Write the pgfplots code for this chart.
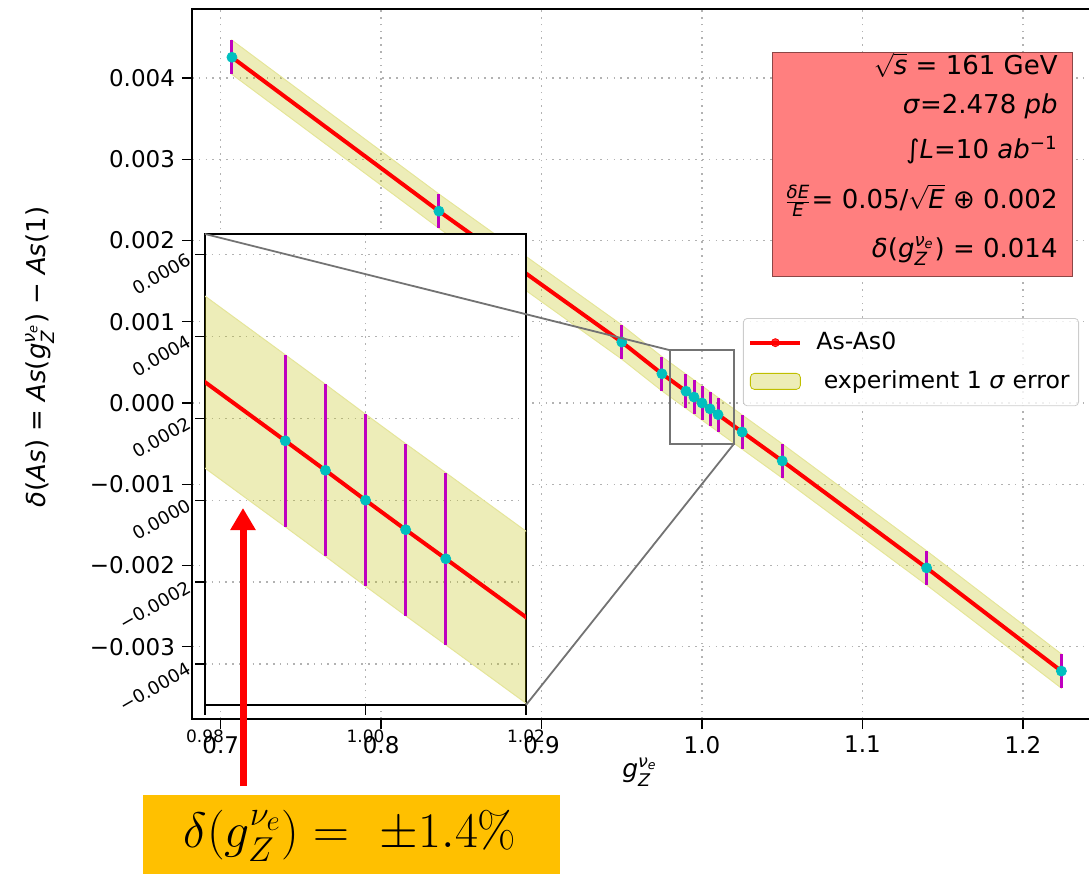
\documentclass[border=0pt]{standalone}
\usepackage{amsmath}
\usepackage[no-math]{fontspec}
\setmainfont{DejaVu Sans}
\usepackage{pgfplots}
\usepackage{pgfplotstable}
\pgfplotsset{compat=1.18}
\usetikzlibrary{arrows.meta}

\definecolor{mplc}{rgb}{0,0.75,0.75}
\definecolor{mplm}{rgb}{0.75,0,0.75}
\definecolor{bandc}{rgb}{0.75,0.75,0}
\definecolor{boxred}{RGB}{255,127,127}
\definecolor{boxedge}{RGB}{140,70,70}
\definecolor{orangebox}{RGB}{255,192,0}

\newcommand{\gZ}{\textit{g}$_{\text{\textit{Z}}}^{\text{\textit{ν}}_{\text{\textit{e}}}}$}

% g, delta(As), error
\pgfplotstableread{
g d e
0.707 0.004256 0.00021
0.836 0.002362 0.00021
0.950 0.000750 0.00021
0.975 0.000360 0.00021
0.990 0.000145 0.00021
0.995 0.000073 0.00021
1.000 0.000000 0.00021
1.005 -0.000072 0.00021
1.010 -0.000143 0.00021
1.025 -0.000357 0.00021
1.050 -0.000713 0.00021
1.140 -0.002030 0.00021
1.224 -0.003300 0.00021
}\asdata

% 1 sigma band: upper edge, then lower edge backwards
\newcommand{\bandcoords}{(0.707,0.004466) (0.836,0.002572) (0.950,0.000960) (0.975,0.000570)
 (0.990,0.000355) (0.995,0.000283) (1.000,0.000210) (1.005,0.000138) (1.010,0.000067)
 (1.025,-0.000147) (1.050,-0.000503) (1.140,-0.001820) (1.224,-0.003090)
 (1.224,-0.003510) (1.140,-0.002240) (1.050,-0.000923) (1.025,-0.000567) (1.010,-0.000353)
 (1.005,-0.000282) (1.000,-0.000210) (0.995,-0.000137) (0.990,-0.000065) (0.975,0.000150)
 (0.950,0.000540) (0.836,0.002152) (0.707,0.004046)}

\pgfplotsset{
  mplgrid/.style={grid=major, grid style={black!30, line width=0.7pt, dash pattern=on 0.8pt off 2.6pt}},
}

\begin{document}
\begin{tikzpicture}
\useasboundingbox (0,0) rectangle (544.5pt,-437pt);
\clip (0,0) rectangle (544.5pt,-437pt);

\begin{axis}[name=main, at={(96pt,-359.5pt)}, anchor=south west, scale only axis,
  width=454.75pt, height=355pt,
  xmin=0.6821, xmax=1.249, ymin=-0.00389, ymax=0.00485,
  xtick={0.7,0.8,0.9,1.0,1.1,1.2}, xticklabels={0.7,0.8,0.9,1.0,1.1,1.2},
  ytick={-0.003,-0.002,-0.001,0,0.001,0.002,0.003,0.004},
  yticklabels={−0.003,−0.002,−0.001,0.000,0.001,0.002,0.003,0.004},
  scaled ticks=false, tick align=outside, tick pos=left, major tick length=5pt,
  tick style={black, line width=0.7pt}, axis line style={line width=0.8pt},
  ticklabel style={font=\fontsize{11.5}{13}\selectfont},
  mplgrid,
  legend style={at={(0.6058,0.5648)}, anchor=north west, draw=black!20, rounded corners=2pt,
    fill=white, fill opacity=0.8, text opacity=1, font=\fontsize{11.8}{14}\selectfont,
    row sep=5pt, inner xsep=2.5pt, inner ysep=5pt},
  legend cell align=left]
\addlegendimage{legend image code/.code={\draw[red,line width=2pt] (2pt,0pt) -- (27pt,0pt); \fill[red] (14.5pt,0pt) circle (2pt);}}
\addlegendentry{\hspace{5pt}As-As0}
\addlegendimage{legend image code/.code={\fill[bandc, fill opacity=0.28] (2pt,-4pt) rectangle (27pt,4pt);}}
\addlegendentry{\hspace{5pt}\ experiment 1 \textit{σ} error}
\addplot[fill=bandc, fill opacity=0.28, draw=bandc!40, line width=0.5pt] coordinates {\bandcoords} -- cycle;
\addplot[red, line width=2pt, mark=none] table[x=g, y=d] {\asdata};
\addplot[only marks, mark=*, mark size=2.5pt, mplc,
  error bars/.cd, y dir=both, y explicit, error mark=none,
  error bar style={mplm, line width=1.5pt}] table[x=g, y=d, y error=e] {\asdata};
\draw[black!55, line width=0.9pt] (axis cs:0.98,-0.0005) rectangle (axis cs:1.02,0.00065);
\coordinate (zTL) at (axis cs:0.98,0.00065);
\coordinate (zBR) at (axis cs:1.02,-0.0005);
\end{axis}

\node[anchor=center, font=\fontsize{12.5}{14}\selectfont] at (320pt,-386pt) {\gZ};
\node[anchor=center, rotate=90, font=\fontsize{13}{15}\selectfont] at (20pt,-178.5pt)
  {\textit{δ}(\textit{As}) = \textit{As}(\gZ) − \textit{As}(1)};

\begin{axis}[name=ins, at={(102.5pt,-352.5pt)}, anchor=south west, scale only axis,
  width=160.5pt, height=235.5pt,
  xmin=0.98, xmax=1.02, ymin=-0.0005, ymax=0.00065,
  axis background/.style={fill=white},
  xtick={0.98,1.00,1.02}, xticklabels={0.98,1.00,1.02},
  ytick={-0.0004,-0.0002,0,0.0002,0.0004,0.0006},
  yticklabels={−0.0004,−0.0002,0.0000,0.0002,0.0004,0.0006},
  scaled ticks=false, tick align=outside, tick pos=left, major tick length=5pt,
  tick style={black, line width=0.7pt}, axis line style={line width=0.8pt},
  ticklabel style={font=\fontsize{8.5}{10}\selectfont},
  xticklabel style={yshift=-4pt},
  yticklabel style={font=\fontsize{9}{10}\selectfont, rotate=30, anchor=east},
  mplgrid]
\addplot[fill=bandc, fill opacity=0.28, draw=bandc!40, line width=0.5pt] coordinates {\bandcoords} -- cycle;
\addplot[red, line width=2pt, mark=none] table[x=g, y=d] {\asdata};
\addplot[only marks, mark=*, mark size=2.5pt, mplc,
  error bars/.cd, y dir=both, y explicit, error mark=none,
  error bar style={mplm, line width=1.5pt}] table[x=g, y=d, y error=e] {\asdata};
\end{axis}

\draw[black!55, line width=0.9pt] (ins.north west) -- (zTL);
\draw[black!55, line width=0.9pt] (ins.south east) -- (zBR);

% parameter box
\draw[boxedge, line width=0.5pt, fill=boxred] (386pt,-26pt) rectangle (536pt,-138pt);
\begin{scope}[every node/.style={anchor=base east, inner sep=0pt, font=\fontsize{13}{15}\selectfont}]
\node at (529pt,-37pt) {$\sqrt{\text{\textit{s}}}$ = 161 GeV};
\node at (529pt,-56.5pt) {\textit{σ}=2.478 \textit{pb}};
\node at (529pt,-79pt) {∫\textit{L}=10 \textit{ab}$^{\text{−1}}$};
\node at (529pt,-104pt) {$\frac{\text{\textit{δE}}}{\text{\textit{E}}}$= 0.05/$\sqrt{\text{\textit{E}}}$ ⊕ 0.002};
\node at (529pt,-128.5pt) {\textit{δ}(\gZ) = 0.014};
\end{scope}

% annotation
\fill[orangebox] (71.5pt,-397.5pt) rectangle (280pt,-437pt);
\node[anchor=center, font=\fontsize{27}{32}\selectfont] at (175pt,-418pt) {$\delta(g_Z^{\nu_e}) =\ \pm 1.4\%$};
\draw[red, line width=3.5pt, -{Triangle[width=12pt,length=11pt]}] (121.5pt,-393pt) -- (121.5pt,-254pt);
\end{tikzpicture}
\end{document}
